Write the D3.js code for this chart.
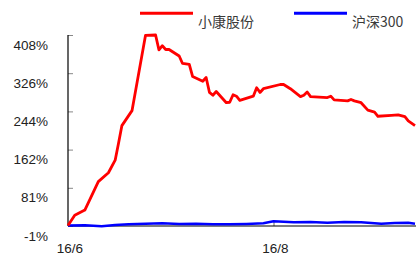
<!DOCTYPE html>
<html><head><meta charset="utf-8">
<script src="https://cdn.jsdelivr.net/npm/d3@7"></script>
<style>body{margin:0;background:#fff}svg{display:block}</style>
</head><body>
<svg id="c" width="416" height="255"></svg>
<script>
(function(){
const seriesNames = ["小康股份", "沪深300"];
const seriesColors = ["#ff0000", "#0000ff"];
const redDates = ["2016-06-01","2016-06-03","2016-06-06","2016-06-10","2016-06-13","2016-06-15","2016-06-16","2016-06-17","2016-06-20","2016-06-24","2016-06-27","2016-06-28","2016-06-29","2016-06-30","2016-07-01","2016-07-04","2016-07-05","2016-07-07","2016-07-08","2016-07-11","2016-07-12","2016-07-13","2016-07-14","2016-07-15","2016-07-18","2016-07-19","2016-07-20","2016-07-21","2016-07-22","2016-07-26","2016-07-27","2016-07-28","2016-07-29","2016-08-03","2016-08-04","2016-08-06","2016-08-09","2016-08-10","2016-08-11","2016-08-12","2016-08-17","2016-08-18","2016-08-19","2016-08-23","2016-08-24","2016-08-25","2016-08-27","2016-08-29","2016-08-31","2016-09-01","2016-09-05","2016-09-07","2016-09-09","2016-09-10","2016-09-12"];
const redValues = [0,22,33,94,113,140,176,214,246,407,408,376,385,377,377,363,347,345,319,309,317,285,279,287,263,264,280,277,268,277,295,285,293,302,302,293,276,279,286,276,274,277,269,267,270,267,263,247,243,234,236,237,233,224,214];
const blueDates = ["2016-06-01","2016-06-06","2016-06-11","2016-06-15","2016-06-19","2016-06-24","2016-06-29","2016-07-04","2016-07-09","2016-07-14","2016-07-19","2016-07-24","2016-07-29","2016-08-01","2016-08-04","2016-08-07","2016-08-12","2016-08-17","2016-08-22","2016-08-27","2016-09-02","2016-09-06","2016-09-10","2016-09-12"];
const blueValues = [0,0.5,-1.5,1,3,4,5,3.5,4,3,2.5,3.5,5,9,8,7,7.5,6,7.5,7,4,5.5,6,4];
const yTickLabels = ["-1%","81%","162%","244%","326%","408%"];
const xTickDates = ["2016-06-01","2016-08-01"];
const xTickLabels = ["16/6","16/8"];

const parse = d3.timeParse("%Y-%m-%d");
const svg = d3.select("#c");
const mLeft = 68, mBottom = 226, mTop = 35;
const x = d3.scaleTime().domain([parse("2016-06-01"), parse("2016-08-01")]).range([mLeft, 273.5]);
const y = d3.scaleLinear().domain([-1, 408]).range([mBottom, mTop]);
const yTickVals = yTickLabels.map((d,i)=> -1 + i*(409/5));

const gy = svg.append("g").attr("transform", `translate(${mLeft},0)`)
  .call(d3.axisRight(y).tickValues(yTickVals).tickSize(5).tickFormat(""));
gy.select(".domain").remove();
gy.selectAll(".tick line").attr("stroke","#888");
svg.append("line").attr("x1",mLeft).attr("x2",mLeft).attr("y1",y(408)).attr("y2",mBottom).attr("stroke","#000").attr("stroke-width",1.2);
svg.append("g").selectAll("text").data(yTickVals).join("text")
  .attr("x", 48).attr("y", d=>y(d)+14.5).attr("text-anchor","end")
  .attr("font-family","Liberation Sans, Arial, sans-serif").attr("font-size",13.5).attr("fill","#222")
  .text((d,i)=>yTickLabels[i]);

const gx = svg.append("g").attr("transform", `translate(0,${mBottom})`)
  .call(d3.axisTop(x).tickValues(xTickDates.map(parse)).tickSize(4).tickFormat(""));
gx.select(".domain").remove();
gx.selectAll(".tick line").attr("stroke","#666");
svg.append("line").attr("x1",mLeft).attr("x2",416).attr("y1",mBottom).attr("y2",mBottom).attr("stroke","#000").attr("stroke-width",1.2);
svg.append("g").selectAll("text").data(xTickDates).join("text")
  .attr("x", d=>x(parse(d))+1.8).attr("y", 253).attr("text-anchor","middle")
  .attr("font-family","Liberation Sans, Arial, sans-serif").attr("font-size",13.5).attr("fill","#222")
  .text((d,i)=>xTickLabels[i]);

const line = d3.line().x(d=>x(d[0])).y(d=>y(d[1]));
const blue = blueDates.map((d,i)=>[parse(d), blueValues[i]]);
const red = redDates.map((d,i)=>[parse(d), redValues[i]]);
svg.append("path").datum(blue).attr("d",line).attr("fill","none").attr("stroke",seriesColors[1]).attr("stroke-width",2.5).attr("stroke-linejoin","round");
svg.append("path").datum(red).attr("d",line).attr("fill","none").attr("stroke",seriesColors[0]).attr("stroke-width",2.8).attr("stroke-linejoin","round");

const legX = [140, 294];
seriesNames.forEach((n,i)=>{
  svg.append("line").attr("x1",legX[i]).attr("x2",legX[i]+53).attr("y1",13.3).attr("y2",13.3)
    .attr("stroke",seriesColors[i]).attr("stroke-width",3);
  svg.append("text").attr("x",legX[i]+58).attr("y",26.5)
    .attr("font-family","Noto Sans CJK SC, Liberation Sans, sans-serif").attr("font-size",14).attr("fill","#3a3a3a")
    .text(n);
});
})();
</script>
</body></html>
